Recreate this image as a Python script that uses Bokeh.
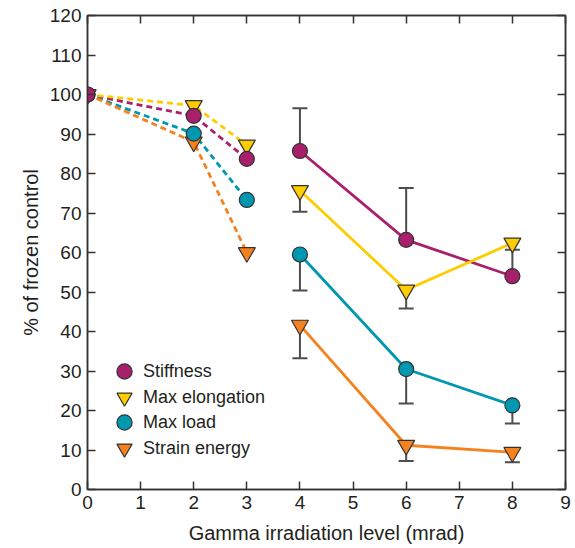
import math
from bokeh.plotting import figure
from bokeh.models import LinearAxis, Legend, LegendItem, FixedTicker, Range1d
from bokeh.embed import file_html
from bokeh.resources import INLINE

# ---- data ----
x_levels = [0, 2, 3, 4, 6, 8]
series_names = ["Stiffness", "Max elongation", "Max load", "Strain energy"]
stiffness = [100, 94.6, 83.7, 85.7, 63.2, 54.0]
max_elongation = [100, 97.2, 87.2, 75.7, 50.5, 62.4]
max_load = [100, 90.1, 73.3, 59.5, 30.5, 21.3]
strain_energy = [100, 88.0, 60.0, 41.6, 11.2, 9.4]
nan = float("nan")
stiffness_err_end = [nan, nan, nan, 96.5, 76.3, 60.7]
max_elongation_err_end = [nan, nan, nan, 70.3, 45.8, nan]
max_load_err_end = [nan, nan, nan, 50.4, 21.8, 16.7]
strain_energy_err_end = [nan, nan, nan, 33.2, 7.2, 6.9]
x_ticks = list(range(0, 10))
y_ticks = list(range(0, 121, 10))

series = [
    ("Stiffness", stiffness, stiffness_err_end, "circle", "#a8206b", 15),
    ("Max elongation", max_elongation, max_elongation_err_end, "inverted_triangle", "#ffcc00", 17),
    ("Max load", max_load, max_load_err_end, "circle", "#0097b0", 15),
    ("Strain energy", strain_energy, strain_energy_err_end, "inverted_triangle", "#f5821f", 17),
]

FONT = "Liberation Sans"
TXT = "#231f20"
AX = "#333333"

p = figure(width=575, height=548, x_range=Range1d(0, 9), y_range=Range1d(0, 120),
           output_backend="svg", toolbar_location=None,
           min_border_left=87, min_border_right=10, min_border_top=15, min_border_bottom=59)
p.grid.visible = False
p.outline_line_color = AX
p.outline_line_width = 1.5
p.background_fill_color = "white"
p.border_fill_color = "white"

p.xaxis.ticker = FixedTicker(ticks=x_ticks)
p.yaxis.ticker = FixedTicker(ticks=y_ticks)
p.xaxis.axis_label = "Gamma irradiation level (mrad)"
p.yaxis.axis_label = "% of frozen control"
for ax in (p.xaxis[0], p.yaxis[0]):
    ax.axis_line_color = AX
    ax.axis_line_width = 1.5
    ax.major_tick_line_color = AX
    ax.major_tick_line_width = 1.5
    ax.major_tick_in = 8
    ax.major_tick_out = 0
    ax.minor_tick_line_color = None
    ax.major_label_text_font = FONT
    ax.major_label_text_font_size = "19px"
    ax.major_label_text_color = TXT
    ax.major_label_standoff = 6
    ax.axis_label_text_font = FONT
    ax.axis_label_text_font_size = "20px"
    ax.axis_label_text_font_style = "normal"
    ax.axis_label_text_color = TXT
p.yaxis[0].axis_label_standoff = 5
p.xaxis[0].axis_label_standoff = 10

for loc, tk in (("above", x_ticks), ("right", y_ticks)):
    ax = LinearAxis(ticker=FixedTicker(ticks=tk),
                    major_label_overrides={t: "" for t in tk},
                    major_label_standoff=0, major_tick_in=8, major_tick_out=0,
                    axis_line_color=AX, axis_line_width=1.5,
                    major_tick_line_color=AX, major_tick_line_width=1.5,
                    minor_tick_line_color=None)
    p.add_layout(ax, loc)

# error bars (behind everything)
for name, vals, ends, marker, color, size in series:
    ex, ey0, ey1 = [], [], []
    for xv, v, e in zip(x_levels, vals, ends):
        if not math.isnan(e):
            ex.append(xv); ey0.append(v); ey1.append(e)
    p.segment(x0=ex, y0=ey0, x1=ex, y1=ey1, line_color="#4d4d4d", line_width=2)
    p.scatter(x=ex, y=ey1, marker="dash", size=15, line_color="#4d4d4d", line_width=2)

# lines
for name, vals, ends, marker, color, size in series:
    p.line(x_levels[:3], vals[:3], line_color=color, line_width=2.8, line_dash="6 4")
    p.line(x_levels[3:], vals[3:], line_color=color, line_width=2.8)

# markers (stiffness on top)
marker_renderers = {}
for name, vals, ends, marker, color, size in reversed(series):
    r = p.scatter(x_levels, vals, marker=marker, size=size, fill_color=color,
                  line_color="#333333", line_width=1.2)
    marker_renderers[name] = r

# one legend per entry so rows can be tighter than the glyph box
legend_offsets = [99, 73, 48, 22]
for n, off in zip(series_names, legend_offsets):
    legend = Legend(items=[LegendItem(label=n, renderers=[marker_renderers[n]])],
                    location=(18, off), padding=0, margin=0, spacing=0,
                    glyph_width=38, glyph_height=38, label_height=38, label_standoff=-1,
                    label_text_font=FONT, label_text_font_size="18px", label_text_color=TXT,
                    border_line_color=None, background_fill_alpha=0)
    p.add_layout(legend, "center")

open("out.html", "w").write(file_html(p, INLINE))
